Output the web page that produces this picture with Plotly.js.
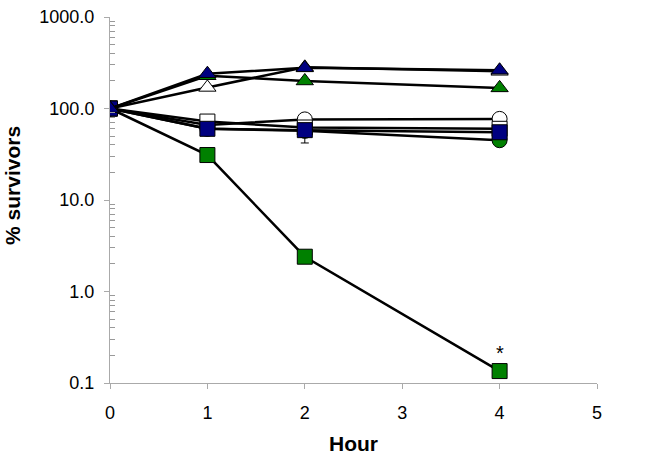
<!DOCTYPE html>
<html>
<head>
<meta charset="utf-8">
<script src="https://cdn.plot.ly/plotly-3.0.1.min.js"></script>
<style>
  html, body { margin: 0; padding: 0; background: #fff; }
  #chart { width: 662px; height: 462px; }
</style>
</head>
<body>
<div id="chart"></div>
<script>
// Hours sampled
const hours = [0, 1, 2, 4];

// % survivors per strain
const greenSquares   = [100, 31, 2.4, 0.135];
const blueSquares    = [100, 60, 58, 55];
const openSquares    = [100, 72, 62, 60];
const openCircles    = [100, 66, 76, 77];
const greenCircles   = [100, 60, 57, 45];
const blueTriangles  = [100, 240, 278, 262];
const greenTriangles = [100, 228, 200, 168];
const openTriangles  = [100, 170, 282, 255];

// lower error arms (only a few visible)
const greenCirclesErrMinus = [0, 9, 15, 0];
const blueSquaresErrMinus  = [0, 6, 6, 0];

const yTickVals = [0.1, 1, 10, 100, 1000];
const yTickText = ['0.1', '1.0', '10.0', '100.0', '1000.0'];
// minor ticks at 2..9 of each decade
const yMinorVals = [0.1, 1, 10, 100].flatMap(d => [2, 3, 4, 5, 6, 7, 8, 9].map(k => k * d));

const NAVY = '#000080';
const GREEN = '#008000';
const FONT = 'Liberation Sans, Arial, sans-serif';

function series(y, symbol, fill, errMinus) {
    const trace = {
        x: hours,
        y: y,
        type: 'scatter',
        mode: 'lines+markers',
        line: { color: '#000', width: 2.5 },
        marker: { symbol: symbol, size: 15, color: fill, line: { color: '#000', width: 1 } },
        showlegend: false,
        hoverinfo: 'x+y'
    };
    if (errMinus) {
        trace.error_y = {
            type: 'data', symmetric: false,
            array: hours.map(() => 0), arrayminus: errMinus,
            color: '#000', thickness: 1, width: 4
        };
    }
    return trace;
}

const data = [
    series(greenSquares, 'square', GREEN),
    series(greenCircles, 'circle', GREEN, greenCirclesErrMinus),
    series(openCircles, 'circle', '#fff'),
    series(openSquares, 'square', '#fff'),
    series(blueSquares, 'square', NAVY, blueSquaresErrMinus),
    series(openTriangles, 'triangle-up', '#fff'),
    series(greenTriangles, 'triangle-up', GREEN),
    series(blueTriangles, 'triangle-up', NAVY)
];

const axisFont = { family: FONT, size: 18, color: '#000' };
const titleFont = { family: FONT, size: 21, color: '#000', weight: 'bold' };

const layout = {
    width: 662,
    height: 462,
    margin: { t: 17, r: 65, b: 79, l: 110 },
    paper_bgcolor: '#fff',
    plot_bgcolor: '#fff',
    showlegend: false,
    xaxis: {
        range: [0, 5],
        dtick: 1,
        showgrid: false,
        zeroline: false,
        showline: true,
        linecolor: '#aaa',
        linewidth: 1,
        ticks: 'outside',
        ticklen: 5,
        tickcolor: '#aaa',
        tickfont: axisFont,
        ticklabelstandoff: 8,
        title: { text: 'Hour', font: titleFont, standoff: 14 }
    },
    yaxis: {
        type: 'log',
        range: [-1, 3],
        tickvals: yTickVals,
        ticktext: yTickText,
        showgrid: false,
        zeroline: false,
        showline: true,
        linecolor: '#aaa',
        linewidth: 1,
        ticks: 'outside',
        ticklen: 5,
        tickcolor: '#aaa',
        tickfont: axisFont,
        ticklabelstandoff: 6,
        minor: { ticks: 'inside', ticklen: 5, tickcolor: '#999', tickmode: 'array', tickvals: yMinorVals, showgrid: false }
    },
    annotations: [
        { xref: 'paper', yref: 'paper', x: -0.2, xanchor: 'center', y: 0.54, yanchor: 'middle',
          text: '% survivors', textangle: -90, showarrow: false, font: titleFont },
        { x: 4, y: Math.log10(greenSquares[3]), text: '*', showarrow: false, yshift: 18,
          font: { family: FONT, size: 20, color: '#000' } }
    ]
};

Plotly.newPlot('chart', data, layout, { displayModeBar: false, staticPlot: true });
</script>
</body>
</html>
